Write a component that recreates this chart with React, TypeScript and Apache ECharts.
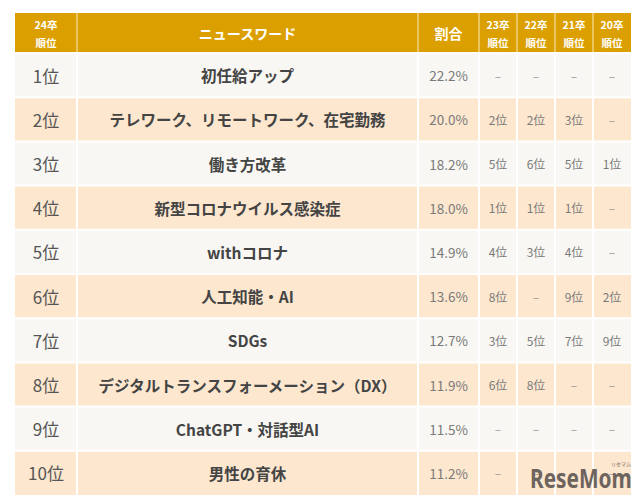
import React, { useEffect, useRef } from 'react';
import * as echarts from 'echarts';

// ---- data ----
const headers = ['24卒\n順位', 'ニュースワード', '割合', '23卒\n順位', '22卒\n順位', '21卒\n順位', '20卒\n順位'];
const ranks24 = [1, 2, 3, 4, 5, 6, 7, 8, 9, 10];
const keywords = [
  '初任給アップ',
  'テレワーク、リモートワーク、在宅勤務',
  '働き方改革',
  '新型コロナウイルス感染症',
  'withコロナ',
  '人工知能・AI',
  'SDGs',
  'デジタルトランスフォーメーション（DX）',
  'ChatGPT・対話型AI',
  '男性の育休',
];
const shares = [22.2, 20.0, 18.2, 18.0, 14.9, 13.6, 12.7, 11.9, 11.5, 11.2];
const ranks23: (number | null)[] = [null, 2, 5, 1, 4, 8, 3, 6, null, null];
const ranks22: (number | null)[] = [null, 2, 6, 1, 3, null, 5, 8, null, null];
const ranks21: (number | null)[] = [null, 3, 5, 1, 4, 9, 7, null, null, null];
const ranks20: (number | null)[] = [null, null, 1, null, null, 2, 9, null, null, null];

// ---- layout / style ----
const colWidths = [62, 341, 61, 38, 38, 38, 38];
const headerH = 40;
const rowH = 44.2;
const FONT = '"Noto Sans CJK JP", "Noto Sans", sans-serif';
const HEADER_BG = '#DBA000';
const HEADER_LINE = '#EDC560';
const ROW_ODD = '#F8F7F3';
const ROW_EVEN = '#FDE7CF';

const colEdges: number[] = [0];
colWidths.forEach((w) => colEdges.push(colEdges[colEdges.length - 1] + w));
const nRows = keywords.length + 1;
const rowEdges: number[] = [0, headerH];
for (let i = 1; i < nRows; i++) rowEdges.push(rowEdges[rowEdges.length - 1] + rowH);
const totalW = colEdges[colEdges.length - 1];
const totalH = rowEdges[rowEdges.length - 1];

type Cell = { c: number; r: number; text: string; kind: string };
const cells: Cell[] = [];
headers.forEach((h, c) => cells.push({ c, r: 0, text: h, kind: c === 0 || c >= 3 ? 'hsmall' : 'head' }));
const rankText = (v: number | null) => (v == null ? '–' : `${v}位`);
keywords.forEach((k, i) => {
  const r = i + 1;
  cells.push({ c: 0, r, text: `${ranks24[i]}位`, kind: 'rank' });
  cells.push({ c: 1, r, text: k, kind: 'kw' });
  cells.push({ c: 2, r, text: `${shares[i].toFixed(1)}%`, kind: 'pct' });
  [ranks23, ranks22, ranks21, ranks20].forEach((arr, j) => {
    cells.push({ c: 3 + j, r, text: rankText(arr[i]), kind: arr[i] == null ? 'dash' : 'prev' });
  });
});

const textStyleFor = (kind: string) => {
  switch (kind) {
    case 'head':
      return { fill: '#ffffff', fontSize: 14, fontWeight: 'bold' };
    case 'hsmall':
      return { fill: '#ffffff', fontSize: 10.5, fontWeight: 'bold', lineHeight: 18 };
    case 'rank':
      return { fill: '#555555', fontSize: 17, fontWeight: 'normal' };
    case 'kw':
      return { fill: '#444444', fontSize: 15.5, fontWeight: 'bold' };
    case 'pct':
      return { fill: '#7a7a7a', fontSize: 13.5, fontWeight: 'normal' };
    case 'prev':
      return { fill: '#7a7a7a', fontSize: 12, fontWeight: 'normal' };
    default:
      return { fill: '#9a9a9a', fontSize: 12, fontWeight: 'normal' };
  }
};

export default function App() {
  const ref = useRef<HTMLDivElement>(null);
  useEffect(() => {
    if (!ref.current) return;
    const chart = echarts.init(ref.current, undefined, { renderer: 'svg' });
    const lastCol = colWidths.length - 1;
    const lastRow = nRows - 1;
    chart.setOption({
      animation: false,
      backgroundColor: '#ffffff',
      grid: { left: 15, top: 13, width: totalW, height: totalH },
      xAxis: { type: 'value', min: 0, max: totalW, show: false },
      yAxis: { type: 'value', min: 0, max: totalH, inverse: true, show: false },
      series: [
        {
          type: 'custom',
          silent: true,
          clip: false,
          data: cells.map((cell) => [cell.c, cell.r]),
          renderItem: (params: any, api: any) => {
            const cell = cells[params.dataIndex];
            const { c, r } = cell;
            const p0 = api.coord([colEdges[c], rowEdges[r]]);
            const p1 = api.coord([colEdges[c + 1], rowEdges[r + 1]]);
            const gl = c > 0 ? 1 : 0;
            const gr = c < lastCol ? 1 : 0;
            const gt = r > 0 ? 1 : 0;
            const gb = r < lastRow ? 1 : 0;
            const x = p0[0], y = p0[1];
            const w = p1[0] - p0[0], h = p1[1] - p0[1];
            const fill = r === 0 ? HEADER_BG : r % 2 === 1 ? ROW_ODD : ROW_EVEN;
            const children: any[] = [];
            if (r === 0) {
              children.push({
                type: 'rect',
                shape: { x, y: y + gt, width: w, height: h - gt - gb },
                style: { fill: HEADER_LINE },
              });
            }
            children.push({
              type: 'rect',
              shape: { x: x + gl, y: y + gt, width: w - gl - gr, height: h - gt - gb },
              style: { fill },
            });
            const ts = textStyleFor(cell.kind);
            children.push({
              type: 'text',
              style: {
                text: cell.text,
                x: x + w / 2,
                y: y + h / 2,
                align: 'center',
                verticalAlign: 'middle',
                fontFamily: FONT,
                ...ts,
              },
            });
            return { type: 'group', children };
          },
        },
      ],
      graphic: [
        {
          type: 'text',
          x: 530,
          y: 478,
          scaleX: 0.8,
          z: 100,
          style: {
            text: 'ReseMom',
            x: 0,
            y: 0,
            align: 'left',
            verticalAlign: 'middle',
            fill: '#6d645e',
            fontSize: 26,
            fontWeight: 'bold',
            fontFamily: '"Noto Sans", sans-serif',
          },
        },
        {
          type: 'text',
          x: 611,
          y: 463,
          z: 100,
          style: {
            text: 'リセマム',
            x: 0,
            y: 0,
            align: 'left',
            verticalAlign: 'middle',
            fill: '#6d645e',
            fontSize: 5,
            fontFamily: FONT,
          },
        },
      ],
    });
    return () => chart.dispose();
  }, []);
  return (
    <div
      ref={ref}
      style={{ position: 'absolute', left: 0, top: 0, width: 640, height: 502 }}
    />
  );
}
